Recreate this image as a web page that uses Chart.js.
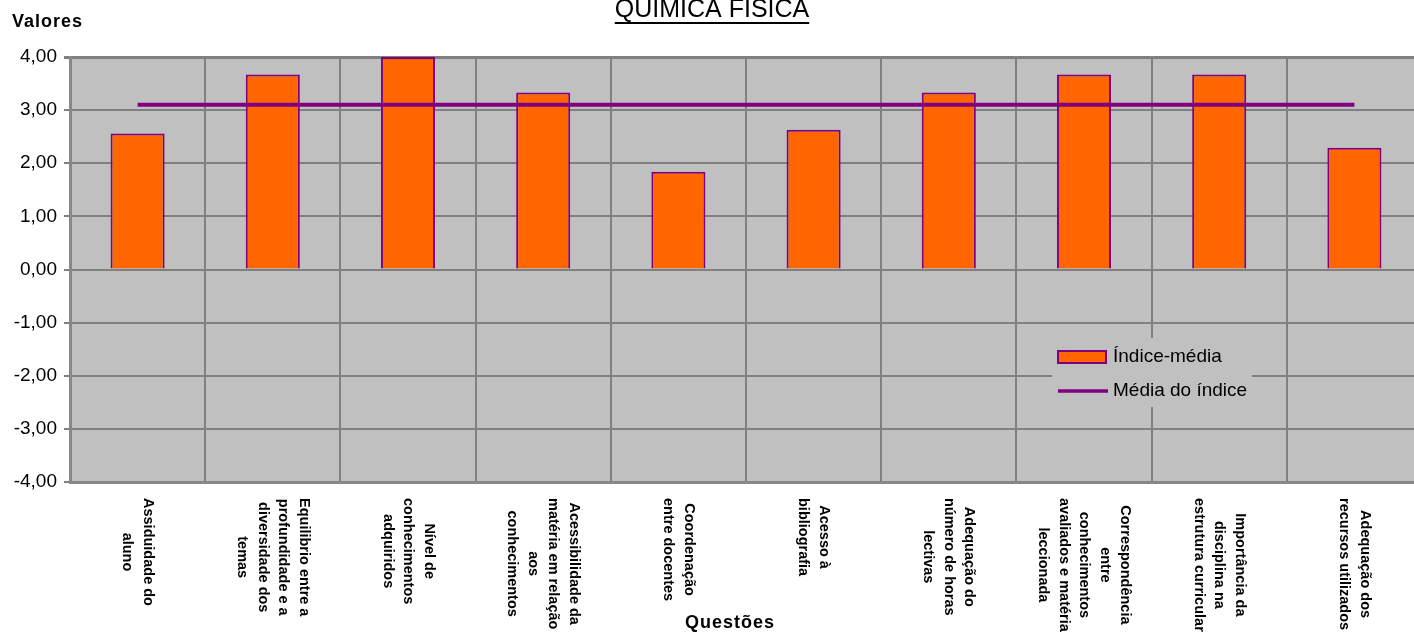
<!DOCTYPE html>
<html>
<head>
<meta charset="utf-8">
<script src="https://cdn.jsdelivr.net/npm/chart.js@4/dist/chart.umd.min.js"></script>
<style>
  html, body { margin: 0; padding: 0; background: #fff; overflow: hidden; width: 1414px; height: 637px; }
  canvas { display: block; }
</style>
</head>
<body>
<canvas id="chart" width="1430" height="637"></canvas>
<script>
// Questões (each label already broken into lines, as in the picture)
const questoes = [
    ['Assiduidade do', 'aluno'],
    ['Equilibrio entre a', 'profundidade e a', 'diversidade dos', 'temas'],
    ['Nível de', 'conhecimentos', 'adquiridos'],
    ['Acessibilidade da', 'matéria em relação', 'aos', 'conhecimentos'],
    ['Coordenação', 'entre docentes'],
    ['Acesso à', 'bibliografia'],
    ['Adequação do', 'número de horas', 'lectivas'],
    ['Correspondência', 'entre', 'conhecimentos', 'avaliados e matéria', 'leccionada'],
    ['Importância da', 'disciplina na', 'estrutura curricular'],
    ['Adequação dos', 'recursos utilizados']
];

// Índice-média per question
const indiceMedia = [2.56, 3.67, 4.00, 3.33, 1.84, 2.63, 3.33, 3.67, 3.67, 2.29];

// Média do índice (same value for every question)
const mediaIndice = [3.10, 3.10, 3.10, 3.10, 3.10, 3.10, 3.10, 3.10, 3.10, 3.10];

const yMin = -4;
const yMax = 4;
const yStep = 1;

const FONT = '"Liberation Sans", Arial, sans-serif';
const PURPLE = '#800080';
const ORANGE = '#FF6600';
const GRID = '#808080';

// Fill plot area, draw title / axis names / rotated category labels / legend
const decorPlugin = {
    id: 'decor',
    beforeDraw(chart) {
        const { ctx, chartArea } = chart;
        ctx.save();
        ctx.fillStyle = '#C0C0C0';
        ctx.fillRect(chartArea.left, chartArea.top, chartArea.right - chartArea.left, chartArea.bottom - chartArea.top);
        ctx.restore();
    },
    afterDraw(chart) {
        const { ctx } = chart;
        const xScale = chart.scales.x;
        ctx.save();

        // title
        ctx.fillStyle = '#000';
        ctx.font = '25px ' + FONT;
        ctx.textAlign = 'center';
        ctx.textBaseline = 'alphabetic';
        ctx.fillText('QUIMICA FISICA', 712, 17);
        const tw = ctx.measureText('QUIMICA FISICA').width;
        ctx.fillRect(712 - tw / 2, 22, tw, 2);

        // axis names
        ctx.font = 'bold 18px ' + FONT;
        ctx.letterSpacing = '1px';
        ctx.textAlign = 'left';
        ctx.fillText('Valores', 12, 27);
        ctx.textAlign = 'center';
        ctx.fillText('Questões', 730, 628);
        ctx.letterSpacing = '0px';

        // category labels, rotated clockwise
        ctx.font = 'bold 14.5px ' + FONT;
        ctx.textAlign = 'center';
        ctx.textBaseline = 'middle';
        const lineH = 20.5;
        questoes.forEach((lines, i) => {
            const x = xScale.getPixelForTick(i);
            const maxW = Math.max(...lines.map(l => ctx.measureText(l).width));
            ctx.save();
            ctx.translate(x, 498 + maxW / 2);
            ctx.rotate(Math.PI / 2);
            lines.forEach((l, j) => {
                ctx.fillText(l, 0, (j - (lines.length - 1) / 2) * lineH);
            });
            ctx.restore();
        });

        // legend
        const bar = chart.data.datasets.find(d => d.type === 'bar');
        const line = chart.data.datasets.find(d => d.type === 'line');
        ctx.fillStyle = '#C0C0C0';
        ctx.fillRect(1052, 338, 200, 69);
        ctx.fillStyle = bar.backgroundColor;
        ctx.fillRect(1058, 351, 48, 12);
        ctx.strokeStyle = bar.borderColor;
        ctx.lineWidth = 2;
        ctx.strokeRect(1058, 351, 48, 12);
        ctx.beginPath();
        ctx.strokeStyle = line.borderColor;
        ctx.lineWidth = 3.5;
        ctx.moveTo(1058, 391);
        ctx.lineTo(1108, 391);
        ctx.stroke();
        ctx.fillStyle = '#000';
        ctx.font = '19px ' + FONT;
        ctx.textAlign = 'left';
        ctx.textBaseline = 'middle';
        ctx.fillText(bar.label, 1113, 357);
        ctx.fillText(line.label, 1113, 391);

        ctx.restore();
    }
};

new Chart(document.getElementById('chart'), {
    type: 'bar',
    data: {
        labels: questoes.map(l => l.join(' ')),
        datasets: [
            {
                type: 'line',
                label: 'Média do índice',
                data: mediaIndice,
                borderColor: PURPLE,
                borderWidth: 4,
                pointRadius: 0,
                fill: false,
                order: 0
            },
            {
                type: 'bar',
                label: 'Índice-média',
                data: indiceMedia,
                backgroundColor: ORANGE,
                borderColor: PURPLE,
                borderWidth: 2,
                barPercentage: 0.4,
                categoryPercentage: 1,
                order: 1
            }
        ]
    },
    options: {
        responsive: false,
        devicePixelRatio: 1,
        animation: false,
        layout: { padding: { top: 57, right: 8, left: 0, bottom: 0 } },
        plugins: {
            legend: { display: false },
            tooltip: { enabled: false },
            title: { display: false }
        },
        scales: {
            x: {
                offset: true,
                grid: { color: GRID, lineWidth: 2, offset: true, drawTicks: false },
                border: { color: '#888', width: 3 },
                ticks: { display: false },
                afterFit: s => { s.height = 155; }
            },
            y: {
                min: yMin,
                max: yMax,
                ticks: {
                    stepSize: yStep,
                    color: '#000',
                    font: { family: FONT, size: 19 },
                    padding: 7,
                    callback: v => v.toFixed(2).replace('.', ',')
                },
                grid: {
                    color: GRID,
                    lineWidth: c => (c.tick && c.tick.value === yMax ? 3 : 2),
                    tickLength: 6
                },
                border: { color: '#888', width: 3 },
                afterFit: s => { s.width = 70; }
            }
        }
    },
    plugins: [decorPlugin]
});
</script>
</body>
</html>
